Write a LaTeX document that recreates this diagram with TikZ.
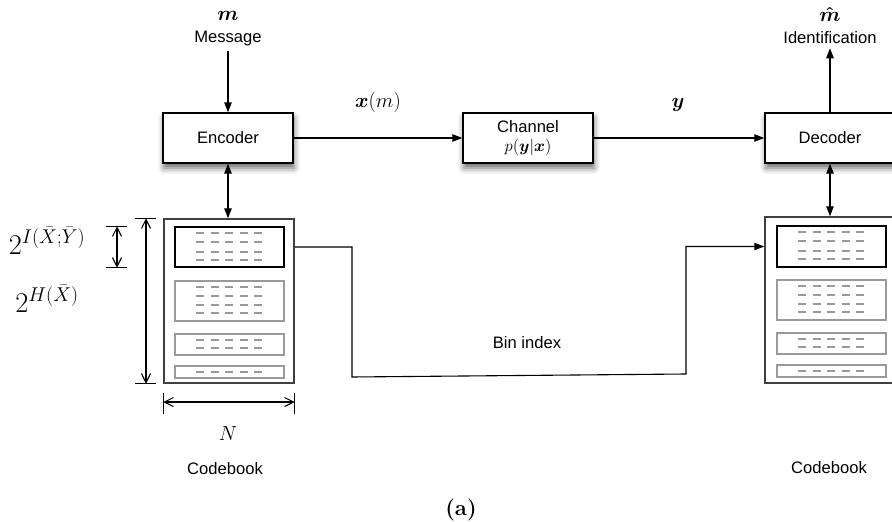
\RequirePackage{fix-cm}
\documentclass[tikz,border=0pt]{standalone}
\usepackage{amsmath}
\usepackage{fontspec}
\setsansfont{Liberation Sans}
\usetikzlibrary{arrows.meta,shadows.blur}

\newcommand\sfsize{\sffamily\fontsize{16.6}{21}\selectfont}
\newcommand\mathsize{\fontsize{20.5}{24}\selectfont}
\newcommand\bigsize{\fontsize{28.5}{32}\selectfont}

\tikzset{
  block/.style={draw, line width=1.4pt, fill=white, minimum width=130pt, minimum height=50pt,
    inner sep=2pt, align=center, font=\sfsize,
    blur shadow={shadow xshift=1pt, shadow yshift=-5pt, shadow blur radius=6pt, shadow opacity=60}},
  book/.style={draw=black!75, line width=1.5pt, fill=white, minimum width=130pt, inner sep=0pt},
  bin/.style={draw=black!40, line width=1.5pt, minimum width=109pt, inner sep=0pt},
  topbin/.style={bin, draw=black},
  binrow/.style={draw=black!40, line width=1.3pt, dash pattern=on 8pt off 6.5pt},
  flow/.style={line width=1.1pt, -{Triangle[length=10pt,width=7.5pt]}},
  both/.style={line width=1.1pt, {Triangle[length=10pt,width=7.5pt]}-{Triangle[length=10pt,width=7.5pt]}},
  dim/.style={line width=1.1pt, {Straight Barb[length=9pt,width=9pt]}-{Straight Barb[length=9pt,width=9pt]}},
  tick/.style={line width=1.1pt},
  txt/.style={font=\sfsize, inner sep=0pt},
  lbl/.style={font=\mathsize, inner sep=0pt},
}

\begin{document}
\begin{tikzpicture}[x=1pt,y=-1pt]
  \clip (0,0) rectangle (892,522);

  % blocks
  \node[block] (enc) at (228,138) {Encoder};
  \node[block] (chan) at (528,138) {Channel\\[-2pt]$p(\boldsymbol{y}|\boldsymbol{x})$};
  \node[block] (dec) at (830,138) {Decoder};

  \node[lbl] (m) at (228,16) {$\boldsymbol{m}$};
  \node[txt] (msg) at (228,39) {Message};
  \node[lbl] (mhat) at (830,14) {$\boldsymbol{\hat{m}}$};
  \node[txt] (ident) at (830,38) {Identification};
  \node[lbl] (xm) at (378,102) {$\boldsymbol{x}(m)$};
  \node[lbl] (yout) at (678,105) {$\boldsymbol{y}$};

  % codebooks
  \node[book, minimum height=164pt] (cbL) at (229,301) {};
  \node[topbin, minimum height=40pt] (b1L) at (229.5,247) {};
  \node[bin, minimum height=40pt] (b2L) at (229.5,301) {};
  \node[bin, minimum height=21pt] (b3L) at (229.5,344.5) {};
  \node[bin, minimum height=12pt] (b4L) at (229.5,372) {};

  \node[book, minimum height=166pt] (cbR) at (830,300) {};
  \node[topbin, minimum height=41pt] (b1R) at (831.5,246.5) {};
  \node[bin, minimum height=40pt] (b2R) at (831.5,300) {};
  \node[bin, minimum height=21pt] (b3R) at (831.5,343.5) {};
  \node[bin, minimum height=12pt] (b4R) at (831.5,371) {};

  \foreach \cx/\dy in {229/0,831/-1}
    \foreach \y in {233,242,252,260,287,296,305,313,340,348,372}
      \draw[binrow] (\cx-33,\y+\dy) -- ++(66,0);

  \node[txt] (cbtxtL) at (225,469) {Codebook};
  \node[txt] (cbtxtR) at (829,468) {Codebook};

  % connectors
  \draw[flow, shorten <=4pt] (msg) -- (enc);
  \draw[flow] (enc) -- (chan);
  \draw[flow] (chan) -- (dec);
  \draw[flow, shorten >=4pt] (dec) -- (ident);
  \draw[both] (enc.south) -- (enc.south |- cbL.north);
  \draw[both] (dec.south) -- (dec.south |- cbR.north);

  \coordinate (turnA) at (352,377);
  \coordinate (turnB) at (686,374);
  \draw[flow] (b1L -| cbL.east) -| (turnA) -- (turnB) |- (b1R -| cbR.west);
  \node[txt] (binidx) at (527,343) {Bin index};

  % dimensions
  \coordinate (hx) at (146,0);
  \coordinate (ix) at (117,0);
  \coordinate (ny) at (0,402);
  \draw[dim] (cbL.north -| hx) -- (cbL.south -| hx);
  \draw[tick] (cbL.north west) ++(-28,0) -- ++(21,0);
  \draw[tick] (cbL.south west) ++(-28,0) -- ++(21,0);
  \draw[dim] (b1L.north -| ix) -- (b1L.south -| ix);
  \draw[tick] (b1L.north west) ++(-68,0) -- ++(21,0);
  \draw[tick] (b1L.south west) ++(-68,0) -- ++(21,0);
  \draw[dim] (cbL.west |- ny) -- (cbL.east |- ny);
  \draw[tick] (cbL.south west) ++(0,9) -- ++(0,21);
  \draw[tick] (cbL.south east) ++(0,9) -- ++(0,21);

  \node[font=\bigsize, inner sep=0pt] (hI) at (47,241) {$2^{I(\bar{X};\bar{Y})}$};
  \node[font=\bigsize, inner sep=0pt] (hH) at (47,299) {$2^{H(\bar{X})}$};
  \node[lbl] (nlbl) at (228,433) {$N$};

  \node[font=\fontsize{22}{26}\selectfont\bfseries, inner sep=1pt] (cap) at (461,510) {(a)};
\end{tikzpicture}
\end{document}
